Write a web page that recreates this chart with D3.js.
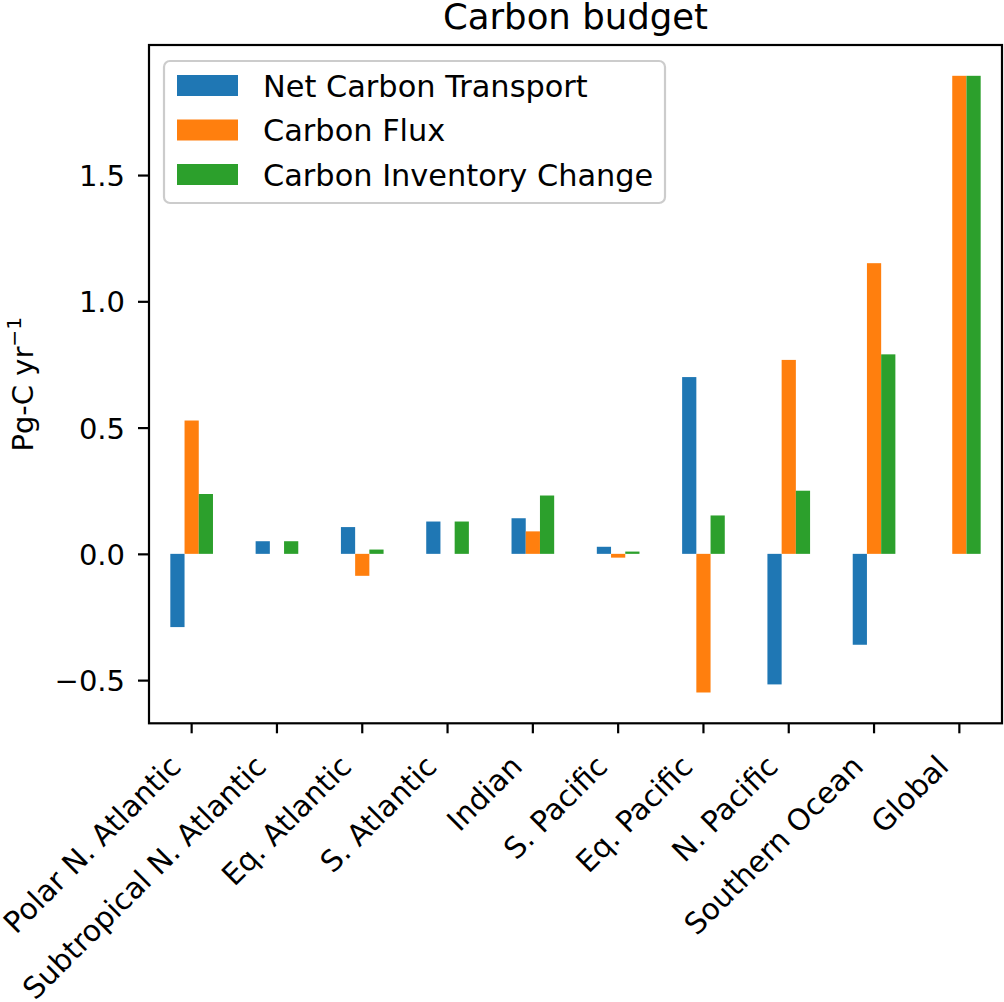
<!DOCTYPE html>
<html lang="en">
  <head>
    <meta charset="UTF-8" />
    <title>Carbon budget</title>
    <script src="https://cdn.jsdelivr.net/npm/d3@7"></script>
    <style>
      body {
        margin: 0;
        background: white;
      }
      svg {
        font-family: "DejaVu Sans", sans-serif;
      }
    </style>
  </head>
  <body>
    <script>
      const regions = [
        "Polar N. Atlantic",
        "Subtropical N. Atlantic",
        "Eq. Atlantic",
        "S. Atlantic",
        "Indian",
        "S. Pacific",
        "Eq. Pacific",
        "N. Pacific",
        "Southern Ocean",
        "Global"
      ];
      const seriesNames = ["Net Carbon Transport", "Carbon Flux", "Carbon Inventory Change"];
      const transport = [-0.29, 0.05, 0.106, 0.128, 0.141, 0.028, 0.7, -0.517, -0.36, 0];
      const flux = [0.528, 0, -0.087, 0, 0.089, -0.015, -0.549, 0.768, 1.151, 1.893];
      const inventory = [0.237, 0.05, 0.017, 0.128, 0.231, 0.009, 0.152, 0.25, 0.79, 1.893];
      const yTicks = [-0.5, 0, 0.5, 1.0, 1.5];
      const colors = ["#1f77b4", "#ff7f0e", "#2ca02c"];

      const width = 1004;
      const height = 1002;
      const plotLeft = 149,
        plotRight = 1002,
        plotTop = 45,
        plotBottom = 723.3;

      const svg = d3
        .select("body")
        .append("svg")
        .attr("width", width)
        .attr("height", height);

      const x = d3.scaleBand().domain(regions).range([plotLeft, plotRight]).padding(0);
      const bw = x.bandwidth() / 6;
      const xInner = d3
        .scaleBand()
        .domain(seriesNames)
        .range([-1.5 * bw, 1.5 * bw]);
      const y = d3.scaleLinear().domain([-0.671, 2.015]).range([plotBottom, plotTop]);

      const table = seriesNames.map((name, i) => ({
        name: name,
        color: colors[i],
        values: [transport, flux, inventory][i]
      }));

      // bars
      table.forEach(s => {
        svg
          .append("g")
          .selectAll("rect")
          .data(s.values)
          .enter()
          .append("rect")
          .attr("x", (d, i) => x(regions[i]) + x.bandwidth() / 2 + xInner(s.name))
          .attr("width", xInner.bandwidth())
          .attr("y", d => y(Math.max(d, 0)))
          .attr("height", d => Math.abs(y(d) - y(0)))
          .attr("fill", s.color);
      });

      // y axis
      const yAxis = d3
        .axisLeft(y)
        .tickValues(yTicks)
        .tickFormat(d3.format(".1f"))
        .tickSize(11)
        .tickPadding(13);
      const gy = svg.append("g").attr("transform", `translate(${plotLeft},0)`).call(yAxis);
      gy.select(".domain").remove();
      gy.selectAll("line").attr("stroke", "black").attr("stroke-width", 2.2);
      gy.selectAll("text")
        .attr("font-size", 29)
        .attr("font-family", "DejaVu Sans")
        .attr("fill", "black")
        .attr("dy", "0.36em");

      // x axis
      const xAxis = d3.axisBottom(x).tickSize(10).tickFormat("");
      const gx = svg.append("g").attr("transform", `translate(0,${plotBottom})`).call(xAxis);
      gx.select(".domain").remove();
      gx.selectAll("line").attr("stroke", "black").attr("stroke-width", 2.2);

      svg
        .append("g")
        .selectAll("text")
        .data(regions)
        .enter()
        .append("text")
        .attr(
          "transform",
          d => `translate(${x(d) + x.bandwidth() / 2 - 9},${plotBottom + 45}) rotate(-45)`
        )
        .attr("text-anchor", "end")
        .attr("font-size", 29.5)
        .attr("fill", "black")
        .text(d => d);

      // frame
      svg
        .append("rect")
        .attr("x", plotLeft)
        .attr("y", plotTop)
        .attr("width", plotRight - plotLeft)
        .attr("height", plotBottom - plotTop)
        .attr("fill", "none")
        .attr("stroke", "black")
        .attr("stroke-width", 2.2);

      // title
      svg
        .append("text")
        .attr("x", (plotLeft + plotRight) / 2)
        .attr("y", 28.5)
        .attr("text-anchor", "middle")
        .attr("font-size", 35.5)
        .text("Carbon budget");

      // y label
      const yl = svg
        .append("text")
        .attr("transform", `translate(33,${(plotTop + plotBottom) / 2}) rotate(-90)`)
        .attr("text-anchor", "middle")
        .attr("font-size", 29);
      yl.append("tspan").text("Pg-C yr");
      yl.append("tspan")
        .attr("font-size", 20.3)
        .attr("dy", -12)
        .text("\u22121");

      // legend
      const legend = svg.append("g");
      legend
        .append("rect")
        .attr("x", 164)
        .attr("y", 61)
        .attr("width", 501)
        .attr("height", 142)
        .attr("rx", 6)
        .attr("fill", "white")
        .attr("fill-opacity", 0.8)
        .attr("stroke", "#cccccc")
        .attr("stroke-width", 2.2);
      table.forEach((s, i) => {
        const cy = 85.5 + i * 44.5;
        legend
          .append("rect")
          .attr("x", 177)
          .attr("y", cy - 10.5)
          .attr("width", 61)
          .attr("height", 21)
          .attr("fill", s.color);
        legend
          .append("text")
          .attr("x", 263)
          .attr("y", cy + 11)
          .attr("font-size", 30.4)
          .text(s.name);
      });
    </script>
  </body>
</html>
